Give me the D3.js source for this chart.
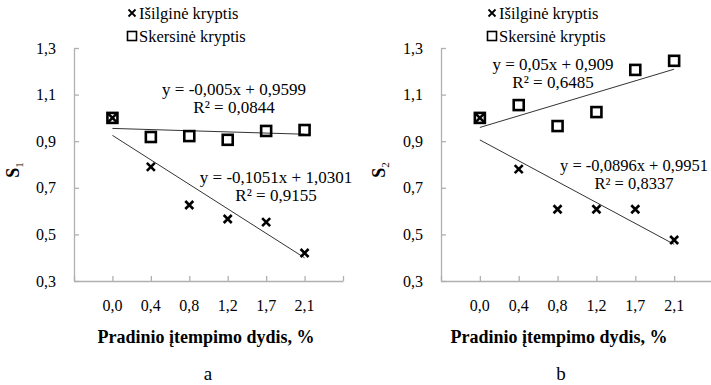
<!DOCTYPE html>
<html>
<head>
<meta charset="utf-8">
<script src="https://cdn.jsdelivr.net/npm/d3@7"></script>
<style>
  html, body { margin: 0; padding: 0; background: #fff; }
  svg { display: block; }
  text { font-family: "Liberation Serif", "Times New Roman", serif; fill: #000; }
</style>
</head>
<body>
<svg id="chart" width="711" height="385"></svg>
<script>
// Initial pre-strain levels (x categories)
const categories = ["0,0", "0,4", "0,8", "1,2", "1,7", "2,1"];
const yTicks = [0.3, 0.5, 0.7, 0.9, 1.1, 1.3];

// S1 values
const s1Longitudinal = [1.0, 0.79, 0.626, 0.566, 0.553, 0.42];
const s1Transverse   = [1.0, 0.918, 0.922, 0.906, 0.944, 0.948];
// S2 values
const s2Longitudinal = [1.0, 0.78, 0.608, 0.608, 0.608, 0.476];
const s2Transverse   = [1.0, 1.055, 0.965, 1.025, 1.206, 1.245];

// Linear trend coefficients [slope, intercept], x = category number 1..6
const s1LongTrend  = [-0.1051, 1.0301];
const s1TransTrend = [-0.005, 0.9599];
const s2LongTrend  = [-0.0896, 0.9951];
const s2TransTrend = [0.05, 0.909];

const legendLabels = ["Išilginė kryptis", "Skersinė kryptis"];
const xTitle = "Pradinio įtempimo dydis, %";

const svg = d3.select("#chart");
const comma = v => d3.format(".1f")(v).replace(".", ",");

function crossPath(cx, cy, r) {
  return `M${cx - r},${cy - r}L${cx + r},${cy + r}M${cx - r},${cy + r}L${cx + r},${cy - r}`;
}

function panel(cfg) {
  const g = svg.append("g");
  const x = d3.scaleLinear().domain([0, 7]).range([cfg.x0, cfg.x1]);
  const y = d3.scaleLinear().domain([0.3, 1.3]).range([281, 48]);

  // x axis: ticks point up, labels placed separately below
  const xa = g.append("g").attr("transform", `translate(0,${y(0.3)})`)
    .call(d3.axisBottom(x).tickValues(d3.range(0, 8)).tickSize(-5).tickSizeOuter(0).tickFormat(""));
  xa.selectAll("path, line").attr("stroke", "#b0b0b0").attr("stroke-width", 1.3);

  g.append("g").selectAll("text").data(categories).join("text")
    .attr("x", (d, i) => x(i + 1)).attr("y", 305)
    .attr("text-anchor", "middle").attr("dominant-baseline", "central")
    .attr("font-size", 16).text(d => d);

  // y axis: ticks point right
  const ya = g.append("g").attr("transform", `translate(${x(0)},0)`)
    .call(d3.axisLeft(y).tickValues(yTicks).tickSize(-5).tickSizeOuter(0).tickPadding(18).tickFormat(comma));
  ya.select(".domain").attr("stroke", "#b0b0b0").attr("stroke-width", 1.3);
  ya.selectAll("line").attr("stroke", "#b0b0b0").attr("stroke-width", 1.3);
  ya.selectAll("text").attr("font-size", 16).attr("font-family", "Liberation Serif, serif").attr("fill", "#000");

  // y title
  const yt = g.append("text")
    .attr("transform", `translate(${cfg.yTitleX},170) rotate(-90)`)
    .attr("text-anchor", "middle").attr("font-size", 18).attr("font-weight", "bold");
  yt.append("tspan").text("S");
  yt.append("tspan").attr("font-size", 11).attr("font-weight", "normal").attr("dy", 4).text(cfg.sub);

  // x title and panel letter
  g.append("text").attr("x", cfg.titleX).attr("y", 343).attr("text-anchor", "middle")
    .attr("font-size", 18).attr("font-weight", "bold").text(xTitle);
  g.append("text").attr("x", cfg.titleX + 2).attr("y", 380).attr("text-anchor", "middle")
    .attr("font-size", 19).text(cfg.letter);

  // trend lines
  const trendLine = d3.line().x(d => x(d[0])).y(d => y(d[1]));
  [cfg.transTrend, cfg.longTrend].forEach(c => {
    g.append("path")
      .attr("d", trendLine([1, 6].map(k => [k, c[0] * k + c[1]])))
      .attr("stroke", "#333").attr("stroke-width", 1).attr("fill", "none");
  });

  // transverse: open squares
  g.append("g").selectAll("rect").data(cfg.trans).join("rect")
    .attr("x", (d, i) => x(i + 1) - 5).attr("y", d => y(d) - 5)
    .attr("width", 10).attr("height", 10)
    .attr("fill", "none").attr("stroke", "#000").attr("stroke-width", 2.6);

  // longitudinal: crosses
  g.append("g").selectAll("path").data(cfg.long).join("path")
    .attr("d", (d, i) => crossPath(x(i + 1), y(d), 4))
    .attr("stroke", "#000").attr("stroke-width", 2.6).attr("fill", "none");

  // legend
  const lg = g.append("g");
  lg.append("path").attr("d", crossPath(cfg.legX, 13, 3.5)).attr("stroke", "#000").attr("stroke-width", 1.8);
  lg.append("rect").attr("x", cfg.legX - 4.5).attr("y", 31.5).attr("width", 9).attr("height", 9)
    .attr("fill", "none").attr("stroke", "#000").attr("stroke-width", 1.6);
  legendLabels.forEach((t, i) => {
    lg.append("text").attr("x", cfg.legX + 7).attr("y", 13 + i * 23)
      .attr("dominant-baseline", "central").attr("font-size", 16.5).text(t);
  });

  // equation labels
  const fmt = c => {
    const s = c[0] < 0 ? "-" : "";
    return `y = ${s}${String(Math.abs(c[0])).replace(".", ",")}x + ${String(c[1]).replace(".", ",")}`;
  };
  cfg.labels.forEach(l => {
    g.append("text").attr("x", l.x).attr("y", l.y).attr("text-anchor", "middle")
      .attr("dominant-baseline", "central").attr("font-size", l.size || 17).text(fmt(l.c));
    g.append("text").attr("x", l.x).attr("y", l.y + 18).attr("text-anchor", "middle")
      .attr("dominant-baseline", "central").attr("font-size", l.size || 17).text("R² = " + l.r2);
  });
}

panel({
  x0: 74, x1: 343, sub: "1", yTitleX: 19, titleX: 206, letter: "a", legX: 132,
  long: s1Longitudinal, trans: s1Transverse, longTrend: s1LongTrend, transTrend: s1TransTrend,
  labels: [
    { x: 234, y: 89, c: s1TransTrend, r2: "0,0844" },
    { x: 276, y: 177, c: s1LongTrend, r2: "0,9155" }
  ]
});

panel({
  x0: 441, x1: 713, sub: "2", yTitleX: 385, titleX: 559, letter: "b", legX: 492,
  long: s2Longitudinal, trans: s2Transverse, longTrend: s2LongTrend, transTrend: s2TransTrend,
  labels: [
    { x: 553, y: 64, c: s2TransTrend, r2: "0,6485" },
    { x: 634, y: 165, c: s2LongTrend, r2: "0,8337", size: 16.5 }
  ]
});
</script>
</body>
</html>
